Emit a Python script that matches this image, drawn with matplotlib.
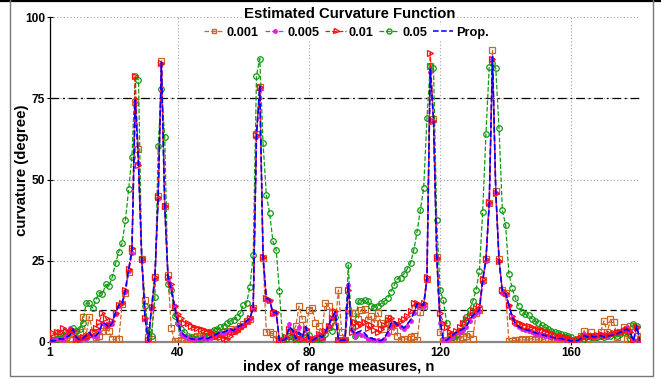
import numpy as np
import matplotlib
matplotlib.use("Agg")
import matplotlib.pyplot as plt
from matplotlib.lines import Line2D

plt.rcParams["font.family"] = ["Liberation Sans", "DejaVu Sans"]

# ---------------- data ----------------
n = np.arange(1, 182)

prop = [0.5, 0.3, 0.5, 1.0, 0.8, 1.5, 2.0, 4.0, 1.5, 0.8,
        1.0, 2.0, 3.0, 1.5, 2.0, 3.0, 6.0, 5.5, 4.5, 6.0,
        9.0, 11.4, 11.8, 16.0, 22.4, 27.8, 74.5, 54.5, 25.5, 7.4,
        0.3, 10.9, 20.0, 44.7, 86.0, 41.6, 20.0, 16.0, 10.9, 6.0,
        3.0, 2.0, 1.5, 1.0, 0.8, 0.8, 1.0, 1.5, 1.0, 1.5,
        2.0, 2.5, 3.0, 3.0, 3.5, 4.0, 3.5, 4.5, 5.0, 5.5,
        6.5, 7.2, 10.8, 63.7, 78.6, 26.3, 13.5, 13.0, 9.0, 9.3,
        0.3, 0.5, 1.0, 4.7, 3.7, 1.0, 3.0, 1.5, 4.7, 1.0,
        0.5, 1.0, 2.0, 1.5, 3.0, 5.2, 7.2, 9.3, 0.6, 0.5,
        0.6, 18.0, 3.7, 2.5, 3.0, 3.5, 2.7, 1.4, 1.2, 0.8,
        0.5, 0.4, 1.2, 3.0, 5.7, 6.3, 5.2, 5.0, 4.3, 5.5,
        6.8, 9.0, 11.8, 11.5, 11.3, 19.5, 84.0, 68.5, 26.3, 6.5,
        0.8, 0.5, 1.5, 2.3, 3.0, 3.5, 4.0, 4.7, 6.8, 8.2,
        9.0, 9.8, 19.0, 25.2, 42.7, 87.8, 46.3, 25.2, 15.4, 14.9,
        11.3, 7.8, 5.7, 4.7, 4.2, 3.8, 3.6, 3.2, 2.8, 2.6,
        2.3, 2.0, 1.8, 1.5, 1.3, 1.1, 1.0, 0.8, 0.6, 0.3,
        0.3, 0.5, 1.0, 2.0, 1.5, 2.0, 1.5, 1.8, 2.0, 1.5,
        1.8, 2.0, 2.2, 2.5, 3.0, 3.5, 4.0, 3.0, 0.3, 5.0, 0.3]

s0005 = [0.3, 0.5, 0.8, 1.0, 0.5, 2.0, 4.2, 3.0, 1.0, 0.5,
         1.5, 1.0, 2.5, 2.0, 1.5, 3.5, 5.8, 5.0, 5.8, 5.5,
         8.5, 11.0, 12.0, 15.5, 22.0, 27.5, 74.0, 55.0, 25.0, 7.0,
         0.3, 10.5, 19.5, 44.0, 85.5, 42.0, 19.5, 16.5, 11.0, 5.5,
         2.5, 2.0, 1.2, 0.8, 0.5, 0.8, 1.2, 1.2, 0.8, 1.2,
         1.8, 2.2, 2.8, 2.8, 3.2, 3.8, 3.2, 4.2, 5.0, 5.2,
         6.2, 7.0, 10.5, 63.0, 78.0, 26.0, 13.0, 12.5, 8.5, 9.0,
         0.3, 0.8, 1.5, 5.4, 3.5, 1.5, 4.5, 1.0, 4.0, 1.2,
         0.5, 1.5, 2.5, 1.0, 3.5, 5.0, 7.5, 8.5, 0.5, 0.5,
         0.5, 17.5, 3.7, 2.0, 2.7, 2.2, 2.0, 1.0, 0.8, 0.6,
         0.5, 0.4, 1.0, 2.5, 4.7, 6.0, 5.5, 4.5, 4.0, 5.0,
         6.5, 9.0, 11.5, 11.0, 11.0, 19.0, 83.0, 68.0, 26.0, 6.0,
         0.5, 0.5, 1.2, 2.0, 2.8, 3.2, 3.8, 4.5, 6.5, 8.0,
         8.8, 9.5, 18.5, 25.0, 42.5, 87.0, 46.0, 25.0, 15.0, 14.5,
         11.0, 7.5, 5.5, 4.5, 4.0, 3.6, 3.4, 3.0, 2.6, 2.4,
         2.2, 1.9, 1.7, 1.4, 1.2, 1.0, 0.9, 0.7, 0.5, 0.3,
         0.3, 0.6, 1.2, 2.5, 1.8, 2.2, 1.5, 2.0, 2.5, 1.8,
         2.0, 2.5, 2.8, 3.0, 3.5, 4.0, 4.5, 3.5, 0.5, 4.5, 0.3]

s001 = [0.5, 2.7, 3.2, 3.0, 4.2, 3.5, 3.0, 3.7, 0.8, 1.0,
        1.5, 1.5, 2.0, 3.0, 4.2, 6.2, 8.8, 7.5, 5.2, 6.5,
        9.0, 11.5, 12.0, 16.0, 22.4, 29.0, 82.0, 54.5, 25.5, 7.4,
        0.5, 10.9, 20.0, 44.7, 86.0, 42.0, 20.0, 18.0, 11.0, 8.5,
        7.3, 6.0, 5.8, 5.0, 4.5, 4.3, 4.0, 3.8, 3.5, 3.0,
        2.5, 2.0, 1.5, 1.2, 1.0, 2.0, 3.0, 3.5, 4.2, 5.0,
        6.2, 7.5, 10.5, 63.7, 78.5, 26.3, 13.5, 13.0, 9.0, 9.3,
        0.5, 0.3, 1.5, 4.0, 3.0, 1.0, 2.5, 1.0, 4.0, 1.0,
        0.8, 1.0, 2.5, 1.2, 3.5, 5.0, 7.5, 9.5, 0.6, 0.5,
        0.5, 16.0, 3.2, 6.3, 5.0, 5.5, 6.3, 4.2, 5.2, 3.7,
        3.2, 4.0, 5.2, 6.8, 7.4, 6.0, 5.5, 6.5, 7.0, 8.0,
        9.4, 11.9, 11.9, 11.5, 12.0, 20.0, 89.0, 68.0, 26.0, 8.8,
        6.0, 4.5, 3.0, 2.5, 3.5, 4.5, 6.0, 7.2, 8.0, 9.5,
        10.5, 11.0, 19.5, 25.5, 43.0, 87.0, 46.0, 25.0, 16.0, 15.0,
        11.5, 8.0, 6.5, 6.0, 5.5, 5.0, 4.8, 4.5, 4.0, 4.0,
        3.6, 3.3, 3.0, 2.8, 2.1, 2.0, 1.8, 1.5, 1.2, 1.0,
        0.5, 0.8, 1.2, 2.0, 1.5, 2.0, 1.8, 2.2, 2.5, 2.0,
        2.2, 2.5, 2.8, 3.0, 3.2, 3.5, 4.0, 3.0, 0.5, 4.5, 0.3]

s005 = [0.5, 0.5, 1.0, 1.5, 2.0, 2.5, 3.0, 4.2, 3.5, 4.0,
        6.0, 11.9, 11.9, 10.4, 13.0, 15.2, 14.7, 17.7, 17.2, 20.0,
        24.2, 27.8, 30.4, 37.4, 47.0, 57.0, 81.8, 80.6, 25.4, 11.2,
        3.8, 1.7, 13.8, 60.3, 78.0, 63.0, 17.7, 16.1, 7.9, 5.8,
        4.0, 3.0, 2.0, 1.5, 1.0, 0.8, 1.0, 1.5, 2.0, 2.5,
        3.7, 4.0, 4.5, 5.0, 5.8, 6.5, 6.8, 7.8, 8.8, 11.5,
        12.1, 17.0, 26.8, 82.0, 87.2, 61.2, 45.3, 39.7, 31.0, 28.4,
        15.6, 0.5, 0.8, 2.0, 1.5, 0.5, 1.0, 0.5, 1.5, 2.1,
        0.5, 0.5, 1.0, 0.8, 2.5, 4.7, 3.5, 7.8, 0.6, 0.5,
        0.6, 23.7, 4.7, 2.0, 12.7, 12.5, 12.8, 12.5, 11.0, 10.8,
        11.2, 11.9, 12.5, 13.4, 15.5, 17.5, 19.5, 19.8, 21.0, 22.5,
        24.3, 28.3, 34.0, 40.6, 47.3, 68.8, 84.9, 84.2, 37.5, 16.0,
        12.9, 6.0, 2.2, 1.5, 2.3, 3.5, 6.0, 7.8, 10.0, 12.5,
        16.0, 22.0, 40.0, 64.0, 84.7, 85.9, 84.2, 65.7, 40.6, 36.0,
        21.0, 16.5, 13.4, 11.0, 9.3, 8.5, 8.2, 7.2, 6.5, 5.8,
        5.1, 4.5, 4.0, 3.5, 3.1, 2.8, 2.6, 2.3, 2.0, 1.5,
        0.5, 0.8, 1.5, 1.0, 2.0, 1.5, 2.0, 1.5, 2.0, 1.5,
        2.0, 2.0, 2.5, 2.0, 2.5, 3.0, 3.5, 1.0, 5.5, 5.0, 0.3]

s0001 = [0.3, 0.5, 1.0, 0.5, 1.0, 1.5, 0.8, 2.5, 1.0, 3.0,
         7.8, 2.0, 7.8, 3.0, 1.5, 2.0, 3.5, 4.5, 3.3, 0.8,
         0.8, 0.8, 11.8, 15.0, 21.5, 28.0, 74.0, 59.5, 25.5, 13.0,
         1.5, 0.8, 20.0, 45.0, 86.5, 42.0, 20.5, 4.4, 0.3, 0.3,
         0.5, 0.4, 0.8, 1.0, 1.5, 2.0, 2.0, 1.5, 2.5, 3.0,
         2.0, 3.5, 2.5, 3.0, 3.5, 4.0, 3.5, 4.0, 5.0, 5.5,
         6.5, 7.0, 10.5, 64.0, 78.5, 26.0, 3.0, 3.0, 2.5, 1.0,
         0.5, 0.5, 0.5, 2.0, 3.0, 5.0, 11.0, 7.0, 3.0, 10.0,
         10.5, 6.0, 5.0, 3.0, 12.0, 11.0, 9.0, 5.0, 16.0, 3.0,
         0.5, 10.0, 8.8, 8.8, 7.2, 10.0, 10.2, 6.8, 8.0, 6.0,
         9.0, 5.7, 4.0, 7.4, 5.0, 3.5, 2.0, 0.6, 0.8, 1.0,
         1.5, 1.9, 0.5, 9.2, 11.0, 19.5, 85.0, 68.5, 26.3, 3.0,
         0.3, 0.5, 0.8, 0.5, 1.0, 1.0, 1.5, 2.0, 2.6, 1.0,
         9.0, 10.0, 19.0, 25.5, 42.7, 89.7, 46.5, 25.5, 16.0, 15.0,
         0.3, 0.3, 0.5, 0.5, 0.8, 0.6, 0.8, 1.0, 0.5, 0.8,
         0.5, 1.0, 0.8, 0.6, 0.5, 1.0, 0.8, 0.5, 0.5, 0.3,
         0.3, 0.5, 2.0, 3.5, 1.0, 3.0, 1.5, 2.0, 3.0, 6.5,
         3.0, 7.0, 6.2, 1.5, 3.0, 4.5, 1.0, 4.8, 5.0, 2.0, 0.3]

labels = ["0.001", "0.005", "0.01", "0.05", "Prop."]
xticks = [1, 40, 80, 120, 160]
yticks = [0, 25, 50, 75, 100]
ref_high = 75
ref_low = 10

for s in (prop, s0005, s001, s005, s0001):
    assert len(s) == len(n), len(s)

# ---------------- figure ----------------
W, H = 661, 381
fig = plt.figure(figsize=(W / 100, H / 100), dpi=100)
L, R, T, B = 50, 640, 17, 342
ax = fig.add_axes([L / W, (H - B) / H, (R - L) / W, (B - T) / H])

c_or = "#cc6622"
c_mg = "#e020e0"
c_rd = "#ff1010"
c_gr = "#109a10"
c_bl = "#0000ff"

lw = 0.9
ax.plot(n, s0001, ls="--", color=c_or, lw=lw, marker="s", ms=3.8,
        mfc="none", mec=c_or, mew=0.9, zorder=3)
ax.plot(n, s0005, ls="--", color=c_mg, lw=lw, marker="o", ms=2.5,
        mfc=c_mg, mec=c_mg, zorder=4)
ax.plot(n, s001, ls="--", color=c_rd, lw=lw, marker=">", ms=4.0,
        mfc="none", mec=c_rd, mew=0.9, zorder=5)
ax.plot(n, s005, ls="--", color=c_gr, lw=lw, marker="o", ms=4.0,
        mfc="none", mec=c_gr, mew=0.9, zorder=3.5)
ax.plot(n, prop, ls="--", color=c_bl, lw=1.2, zorder=6)

ax.axhline(ref_high, color="black", lw=0.9, ls=(0, (7, 3, 1.5, 3)), zorder=2)
ax.axhline(ref_low, color="black", lw=0.9, ls=(0, (5, 3)), zorder=2)

ax.set_xlim(1, 181)
ax.set_ylim(0, 100)
ax.set_xticks(xticks)
ax.set_yticks(yticks)
ax.set_xticklabels([str(t) for t in xticks], fontweight="bold", fontsize=8.6)
ax.set_yticklabels([str(t) for t in yticks], fontweight="bold", fontsize=8.6)
ax.tick_params(axis="both", direction="inout", length=4, width=0.8, pad=1.5)

ax.grid(True, ls=(0, (1, 2)), color="#a0a0a0", lw=0.8, zorder=0)
ax.set_axisbelow(True)

for side in ("top", "right"):
    ax.spines[side].set_visible(False)
ax.spines["left"].set_color("black")
ax.spines["left"].set_linewidth(0.9)
ax.spines["bottom"].set_color("#888888")
ax.spines["bottom"].set_linewidth(1.6)

ax.set_xlabel("index of range measures, n", fontweight="bold", fontsize=10.6)
ax.set_ylabel("curvature (degree)", fontweight="bold", fontsize=10.8)
ax.yaxis.set_label_coords(-0.035, 0.53)
ax.xaxis.set_label_coords(0.49, -0.055)

ax.text(0.508, 1.01, "Estimated Curvature Function", transform=ax.transAxes,
        ha="center", va="center", fontweight="bold", fontsize=10.7,
        bbox=dict(facecolor="white", edgecolor="none", pad=0.5), zorder=10)

handles = [
    Line2D([], [], ls="--", color=c_or, lw=lw, marker="s", ms=3.3, mfc="none", mec=c_or),
    Line2D([], [], ls="--", color=c_mg, lw=lw, marker="o", ms=2.5, mfc=c_mg, mec=c_mg),
    Line2D([], [], ls="--", color=c_rd, lw=lw, marker=">", ms=3.6, mfc="none", mec=c_rd),
    Line2D([], [], ls="--", color=c_gr, lw=lw, marker="o", ms=3.6, mfc="none", mec=c_gr),
    Line2D([], [], ls="--", color=c_bl, lw=1.1),
]
leg = ax.legend(handles, labels, loc="center", bbox_to_anchor=(0.502, 0.952), ncol=5,
                frameon=True, facecolor="white", edgecolor="none", framealpha=1,
                prop=dict(weight="bold", size=9.2), handlelength=1.6,
                handletextpad=0.2, columnspacing=0.45, borderpad=0.1,
                borderaxespad=0)
leg.set_zorder(10)

# figure frame
fig.add_artist(Line2D([0, 1], [1 - 0.8 / H, 1 - 0.8 / H], transform=fig.transFigure,
                      color="black", lw=1.6))
fx0, fx1, fy0 = 10 / W, 653 / W, (H - 376) / H
fig.add_artist(Line2D([fx0, fx0, fx1, fx1], [1, fy0, fy0, 1], transform=fig.transFigure,
                      color="#777777", lw=1.0))

fig.savefig("out.png", dpi=100)
